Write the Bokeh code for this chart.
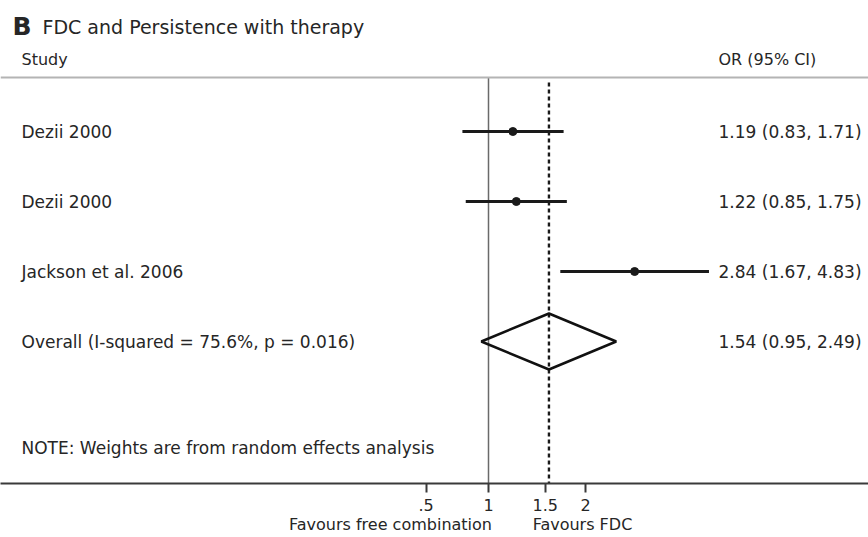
import math

from bokeh.embed import file_html
from bokeh.models import FixedTicker, Label, LogAxis, Range1d, Span
from bokeh.plotting import figure
from bokeh.resources import INLINE

# Study-level odds ratios with 95% confidence intervals
studies = ["Dezii 2000", "Dezii 2000", "Jackson et al. 2006"]
odds_ratio = [1.19, 1.22, 2.84]
ci_low = [0.83, 0.85, 1.67]
ci_high = [1.71, 1.75, 4.83]

# Pooled random-effects estimate
overall_label = "Overall  (I-squared = 75.6%, p = 0.016)"
overall_or = 1.54
overall_low = 0.95
overall_high = 2.49

# Axis ticks and their printed labels
tick_values = [0.64, 1, 1.5, 2]
tick_labels = [".5", "1", "1.5", "2"]

# Direction captions under the axis
caption_labels = ["Favours free combination", "Favours FDC"]

FONT = "DejaVu Sans"
TEXT = "#262626"

W, H = 868, 537
PX_PER_LN = 140.0      # horizontal pixels per unit of ln(OR)
X_ONE = 488.0          # pixel column of OR = 1
ROW_PX = 70.0          # vertical spacing between rows
FIRST_ROW_PX = 131.0   # pixel row of the first study
AXIS_PX = 483.0        # pixel row of the x axis


def row_at(px):
    """Row coordinate of a given pixel height."""
    return 1 + (px - FIRST_ROW_PX) / ROW_PX


def x_at(px):
    """OR value at a given pixel column."""
    return math.exp((px - X_ONE) / PX_PER_LN)


p = figure(
    width=W, height=H,
    x_axis_type="log",
    x_range=Range1d(x_at(0), x_at(W)),
    y_range=Range1d(row_at(AXIS_PX), row_at(0)),
    y_axis_location=None,
    output_backend="svg",
    toolbar_location=None,
    min_border_left=0, min_border_right=0, min_border_top=0,
    min_border_bottom=int(H - AXIS_PX),
)
p.outline_line_color = None
p.grid.visible = False
p.background_fill_color = "white"
p.border_fill_color = "white"

rows = list(range(1, len(studies) + 1))
overall_row = len(studies) + 1

# Header rule under the column titles
header_rule = row_at(77)
p.add_layout(Span(location=header_rule, dimension="width",
                  line_color="#b4b4b4", line_width=2))

# Line of no effect and the pooled-estimate reference line
bottom = row_at(AXIS_PX)
p.segment(x0=[1], x1=[1], y0=[header_rule], y1=[bottom],
          line_color="#6a6a6a", line_width=1.5)
p.segment(x0=[overall_or], x1=[overall_or], y0=[row_at(82)], y1=[bottom],
          line_color="#1a1a1a", line_width=2.4, line_dash="4 3")

# Confidence intervals and point estimates
p.segment(x0=ci_low, x1=ci_high, y0=rows, y1=rows,
          line_color="#1a1a1a", line_width=3)
p.scatter(x=odds_ratio, y=rows, size=8, marker="circle",
          fill_color="#1a1a1a", line_color="#1a1a1a")

# Pooled diamond
half_h = 0.4
p.patch(x=[overall_low, overall_or, overall_high, overall_or],
        y=[overall_row, overall_row - half_h, overall_row, overall_row + half_h],
        fill_color=None, line_color="#111111", line_width=2.5)


def text(x_px, y, s, size="17px", bold=False, align="left"):
    p.add_layout(Label(x=x_px, y=y, x_units="screen", y_units="data", text=s,
                       text_font=FONT, text_font_size=size, text_color=TEXT,
                       text_font_style="bold" if bold else "normal",
                       text_align=align, text_baseline="middle"))


# Title and column headers
text(12, row_at(26), "B", size="25px", bold=True)
text(42, row_at(26), "FDC and Persistence with therapy", size="19px")
text(21, row_at(59), "Study", size="16px")
text(718, row_at(59), "OR (95% CI)", size="16px")

# Study rows
for r, name, o, lo, hi in zip(rows, studies, odds_ratio, ci_low, ci_high):
    text(21, r, name)
    text(718, r, f"{o:.2f} ({lo:.2f}, {hi:.2f})")

text(21, overall_row, overall_label)
text(718, overall_row,
     f"{overall_or:.2f} ({overall_low:.2f}, {overall_high:.2f})")

text(21, row_at(447), "NOTE: Weights are from random effects analysis")

# X axis
ax = p.xaxis[0]
ax.ticker = FixedTicker(ticks=tick_values)
ax.major_label_overrides = {v: lab for v, lab in zip(tick_values, tick_labels)}
ax.axis_line_color = "#3a3a3a"
ax.axis_line_width = 2
ax.major_tick_line_color = "#3a3a3a"
ax.major_tick_line_width = 2
ax.major_tick_in = 0
ax.major_tick_out = 9
ax.minor_tick_line_color = None
ax.major_label_standoff = 6
ax.major_label_text_font = FONT
ax.major_label_text_font_size = "16px"
ax.major_label_text_color = TEXT

# Second, line-less axis carrying the direction captions
caption_pos = [x_at(390), x_at(582)]
cap = LogAxis(
    ticker=FixedTicker(ticks=caption_pos),
    major_label_overrides={v: s for v, s in zip(caption_pos, caption_labels)},
    axis_line_color=None,
    major_tick_line_color=None,
    minor_tick_line_color=None,
    major_tick_in=0, major_tick_out=0,
    major_label_standoff=1,
    major_label_text_font=FONT,
    major_label_text_font_size="16px",
    major_label_text_color=TEXT,
)
p.add_layout(cap, "below")

open("out.html", "w").write(file_html(p, INLINE))
